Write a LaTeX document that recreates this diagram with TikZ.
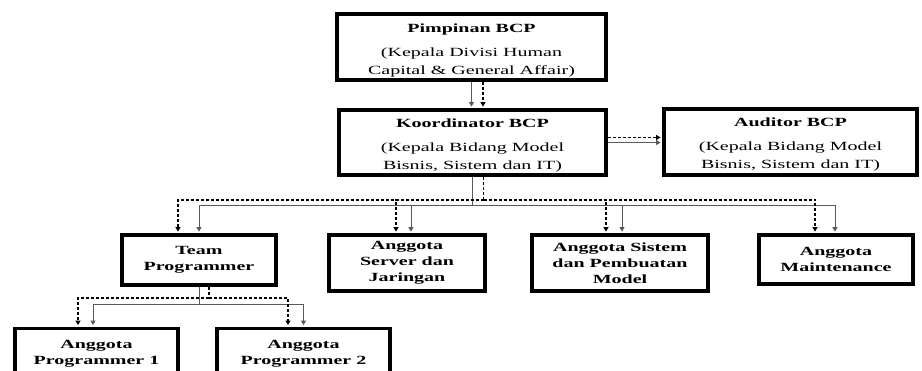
\documentclass[tikz,border=0pt]{standalone}
\usepackage{fontspec}
\newfontfamily\boxfont[FakeStretch=1.6]{Liberation Serif}
\usetikzlibrary{arrows.meta}
\begin{document}
\begin{tikzpicture}[x=1pt,y=1pt,
  box/.style={draw=black, line width=3.6pt, fill=white, align=center, inner sep=0pt,
    font=\boxfont\fontsize{12.5}{16}\selectfont\bfseries},
  bigbox/.style={box, font=\boxfont\fontsize{12.5}{18}\selectfont},
  sl/.style={draw=black!65, line width=0.9pt, -{Triangle[width=5pt,length=4.5pt]}, shorten >=1.6pt},
  dl/.style={draw=black, line width=1.4pt, dash pattern=on 3pt off 2pt, -{Triangle[width=5pt,length=4.5pt]}, shorten >=1.6pt},
  sn/.style={draw=black!65, line width=0.9pt},
  dn/.style={draw=black, line width=1.4pt, dash pattern=on 3pt off 2pt}]
\useasboundingbox (0,0) rectangle (922,-371);
\clip (0,0) rectangle (922,-371);

% top level
\node[bigbox, minimum width=269, minimum height=66] (P) at (471.5,-47)
  {\rule{0pt}{15pt}\textbf{Pimpinan BCP}\\[6pt](Kepala Divisi Human\\Capital \& General Affair)};
\node[bigbox, minimum width=267, minimum height=65] (K) at (472.5,-142.5)
  {\rule{0pt}{15pt}\textbf{Koordinator BCP}\\[6pt](Kepala Bidang Model\\Bisnis, Sistem dan IT)};
\node[bigbox, minimum width=253, minimum height=66] (A) at (790.5,-142)
  {\rule{0pt}{13pt}\textbf{Auditor BCP}\\[6pt](Kepala Bidang Model\\Bisnis, Sistem dan IT)};

% second level
\node[box, minimum width=154, minimum height=50] (TP) at (199,-260) {Team\\Programmer};
\node[box, minimum width=156, minimum height=56] (SJ) at (407,-263) {Anggota\\Server dan\\Jaringan};
\node[box, minimum width=176, minimum height=56] (SM) at (620,-263) {Anggota Sistem\\dan Pembuatan\\Model};
\node[box, minimum width=154, minimum height=49] (MT) at (836,-259.5) {Anggota\\Maintenance};

% third level
\node[box, minimum width=163, minimum height=50] (P1) at (96.5,-353.5) {Anggota\\Programmer 1};
\node[box, minimum width=173, minimum height=50] (P2) at (303.5,-353.5) {Anggota\\Programmer 2};

% Pimpinan -> Koordinator
\draw[sl] (P.south) -- (P.south |- K.north);
\coordinate (pd) at ([xshift=11.5pt]P.south);
\draw[dl] (pd) -- (pd |- K.north);

% Koordinator -> Auditor
\draw[sl] (K.east) -- (K.east -| A.west);
\coordinate (kr) at ([yshift=5pt]K.east);
\draw[dl] (kr) -- (kr -| A.west);

% Koordinator -> second level
\coordinate (bs) at (0,-205);
\coordinate (bd) at (0,-200);
\coordinate (kd) at ([xshift=11pt]K.south);
\draw[sn] (K.south) -- (K.south |- bs);
\draw[dn] (kd) -- (kd |- bd);
\draw[sl] (K.south |- bs) -| (TP.north);
\draw[sl] (K.south |- bs) -| ([xshift=4pt]SJ.north);
\draw[sl] (K.south |- bs) -| ([xshift=2pt]SM.north);
\draw[sl] (K.south |- bs) -| ([xshift=-1pt]MT.north);
\draw[dl] (kd |- bd) -| ([xshift=-21pt]TP.north);
\draw[dl] (kd |- bd) -| ([xshift=-11pt]SJ.north);
\draw[dl] (kd |- bd) -| ([xshift=-14pt]SM.north);
\draw[dl] (kd |- bd) -| ([xshift=-21pt]MT.north);

% Team Programmer -> programmers
\coordinate (bs2) at (0,-304);
\coordinate (bd2) at (0,-298);
\coordinate (td) at ([xshift=10pt]TP.south);
\draw[sn] (TP.south) -- (TP.south |- bs2);
\draw[dn] (td) -- (td |- bd2);
\draw[sl] (TP.south |- bs2) -| ([xshift=-3.5pt]P1.north);
\draw[sl] (TP.south |- bs2) -| (P2.north);
\draw[dl] (td |- bd2) -| ([xshift=-18.5pt]P1.north);
\draw[dl] (td |- bd2) -| ([xshift=-15.5pt]P2.north);
\end{tikzpicture}
\end{document}
